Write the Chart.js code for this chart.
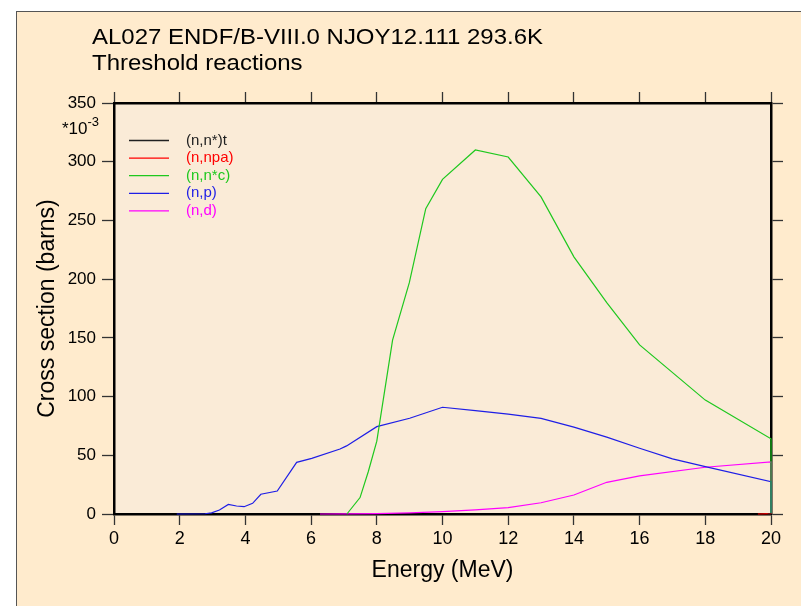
<!DOCTYPE html>
<html>
<head>
<meta charset="utf-8">
<title>AL027 threshold reactions</title>
<script src="https://cdn.jsdelivr.net/npm/chart.js@4.4.1/dist/chart.umd.min.js"></script>
<style>
    html, body { margin: 0; padding: 0; background: #ffffff; }
    #wrap { width: 801px; height: 606px; }
</style>
</head>
<body>
<div id="wrap"><canvas id="xs-chart" width="801" height="606"></canvas></div>
<script>
// Datos (energia en MeV, seccion eficaz en mb = barns*1e-3)
const reactionLabels = ['(n,n*)t', '(n,npa)', '(n,n*c)', '(n,p)', '(n,d)'];
const reactionColors = ['#202020', '#ff0000', '#1ec81e', '#1e1ee6', '#ff00ff'];

const ntEnergy = [19.9, 20.0, 20.0];
const ntValues = [0, 0.1, 0];

const npaEnergy = [19.6, 20.0, 20.0];
const npaValues = [0, 0.3, 0];

const ncEnergy = [7.09, 7.49, 7.74, 8.0, 8.48, 8.99, 9.49, 10.0, 11.0, 12.0, 13.0, 14.0, 15.0, 16.0, 18.0, 20.0, 20.0];
const ncValues = [0, 14, 36, 62, 148, 197, 260, 285, 310, 304, 270, 219, 180, 144, 97, 64, 0];

const npEnergy = [1.91, 2.77, 2.97, 3.21, 3.48, 3.73, 3.96, 4.22, 4.47, 4.97, 5.56, 6.02, 6.88, 7.08, 8.0, 9.0, 10.0, 11.0, 12.0, 13.0, 14.0, 15.0, 16.0, 17.0, 18.0, 20.0, 20.0];
const npValues = [0, 0.2, 1, 3.4, 8.2, 6.8, 6.2, 9.1, 16.8, 19.6, 44, 47.4, 55.4, 58, 74.4, 81.5, 90.9, 88, 85, 81.5, 74, 65.5, 56, 47, 40.4, 27.5, 0];

const ndEnergy = [6.27, 7.0, 8.0, 9.0, 10.0, 11.0, 12.0, 13.0, 14.0, 15.0, 16.0, 18.0, 20.0, 20.0];
const ndValues = [0, 0.1, 0.4, 1.0, 2.0, 3.5, 5.4, 9.6, 16.2, 27, 32.4, 39.8, 44.3, 0];

const xTicks = [0, 2, 4, 6, 8, 10, 12, 14, 16, 18, 20];
const yTicks = [0, 50, 100, 150, 200, 250, 300, 350];

const FONT = '"Liberation Sans", Arial, Helvetica, sans-serif';

function toPoints(energy, values) {
    return energy.map((e, i) => ({ x: e, y: values[i] }));
}

const seriesData = [
    toPoints(ntEnergy, ntValues),
    toPoints(npaEnergy, npaValues),
    toPoints(ncEnergy, ncValues),
    toPoints(npEnergy, npValues),
    toPoints(ndEnergy, ndValues)
];

// Fondo de la pagina, marco exterior y fondo del area de trazado
const backgroundPlugin = {
    id: 'njoyBackground',
    beforeDraw(chart) {
        const { ctx, chartArea } = chart;
        ctx.save();
        ctx.fillStyle = '#ffffff';
        ctx.fillRect(0, 0, chart.width, chart.height);
        ctx.fillStyle = '#ffebcd';
        ctx.fillRect(16.5, 11.5, chart.width, chart.height);
        ctx.strokeStyle = '#555555';
        ctx.lineWidth = 1;
        ctx.strokeRect(16.5, 11.5, chart.width + 10, chart.height + 10);
        ctx.fillStyle = '#faebd7';
        ctx.fillRect(chartArea.left, chartArea.top, chartArea.right - chartArea.left, chartArea.bottom - chartArea.top);
        ctx.restore();
    }
};

// Titulo, factor de escala y leyenda
const textPlugin = {
    id: 'njoyText',
    afterDraw(chart) {
        const { ctx, chartArea } = chart;
        ctx.save();
        ctx.fillStyle = '#000000';
        ctx.textAlign = 'left';
        ctx.textBaseline = 'alphabetic';
        ctx.font = '22px ' + FONT;
        // el original es algo mas ancho que Liberation Sans
        ctx.save();
        ctx.translate(92, 0);
        ctx.scale(1.09, 1);
        ctx.fillText('AL027 ENDF/B-VIII.0 NJOY12.111 293.6K', 0, 44);
        ctx.fillText('Threshold reactions', 0, 70);
        ctx.restore();

        // *10^-3 debajo de la etiqueta 350
        ctx.font = '17px ' + FONT;
        ctx.fillText('*10', 62, 134);
        const w = ctx.measureText('*10').width;
        ctx.font = '13px ' + FONT;
        ctx.fillText('-3', 62 + w, 126);

        // leyenda
        const x0 = chartArea.left + 15;
        const x1 = chartArea.left + 55;
        const xt = chartArea.left + 72;
        const y0 = chartArea.top + 37.5;
        const dy = 17.6;
        ctx.font = '15px ' + FONT;
        ctx.textBaseline = 'middle';
        chart.data.datasets.forEach((ds, i) => {
            const y = y0 + i * dy;
            ctx.strokeStyle = ds.borderColor;
            ctx.lineWidth = 1.3;
            ctx.beginPath();
            ctx.moveTo(x0, y);
            ctx.lineTo(x1, y);
            ctx.stroke();
            ctx.fillStyle = ds.borderColor;
            ctx.fillText(ds.label, xt, y);
        });
        ctx.restore();
    }
};

function axisGrid(len) {
    return {
        display: true,
        drawOnChartArea: false,
        drawTicks: true,
        tickLength: len,
        tickColor: '#333333',
        tickWidth: 1.3
    };
}

const axisBorder = { display: true, color: '#000000', width: 2.5 };

const chartConfig = {
    type: 'line',
    data: {
        datasets: seriesData.map((pts, i) => ({
            label: reactionLabels[i],
            data: pts,
            borderColor: reactionColors[i],
            backgroundColor: reactionColors[i],
            borderWidth: 1.2,
            pointRadius: 0,
            tension: 0,
            fill: false,
            clip: 3
        }))
    },
    options: {
        responsive: false,
        animation: false,
        layout: { padding: 0 },
        plugins: {
            legend: { display: false },
            title: { display: false },
            tooltip: { enabled: false }
        },
        scales: {
            x: {
                type: 'linear',
                position: 'bottom',
                min: 0,
                max: 20,
                afterBuildTicks: scale => { scale.ticks = xTicks.map(v => ({ value: v })); },
                afterFit: scale => { scale.height = 92; },
                ticks: {
                    color: '#000000',
                    font: { family: FONT, size: 18 },
                    padding: 3,
                    maxRotation: 0,
                    autoSkip: false
                },
                grid: axisGrid(11),
                border: axisBorder,
                title: {
                    display: true,
                    text: 'Energy (MeV)',
                    color: '#000000',
                    font: { family: FONT, size: 23 },
                    padding: { top: 0, bottom: 22 }
                }
            },
            xTop: {
                type: 'linear',
                position: 'top',
                min: 0,
                max: 20,
                afterBuildTicks: scale => { scale.ticks = xTicks.map(v => ({ value: v })); },
                afterFit: scale => { scale.height = 103; },
                ticks: { display: false },
                grid: axisGrid(11),
                border: axisBorder
            },
            y: {
                type: 'linear',
                position: 'left',
                min: 0,
                max: 350,
                afterBuildTicks: scale => { scale.ticks = yTicks.map(v => ({ value: v })); },
                afterFit: scale => { scale.width = 114; },
                ticks: {
                    color: '#000000',
                    font: { family: FONT, size: 17 },
                    padding: 6
                },
                grid: axisGrid(12),
                border: axisBorder,
                title: {
                    display: true,
                    text: 'Cross section (barns)',
                    color: '#000000',
                    font: { family: FONT, size: 23 },
                    padding: { top: 34, bottom: 0 }
                }
            },
            yRight: {
                type: 'linear',
                position: 'right',
                min: 0,
                max: 350,
                afterBuildTicks: scale => { scale.ticks = yTicks.map(v => ({ value: v })); },
                afterFit: scale => { scale.width = 30; },
                ticks: { display: false },
                grid: axisGrid(12),
                border: axisBorder
            }
        }
    },
    plugins: [backgroundPlugin, textPlugin]
};

const xsChart = new Chart(document.getElementById('xs-chart'), chartConfig);
</script>
</body>
</html>
